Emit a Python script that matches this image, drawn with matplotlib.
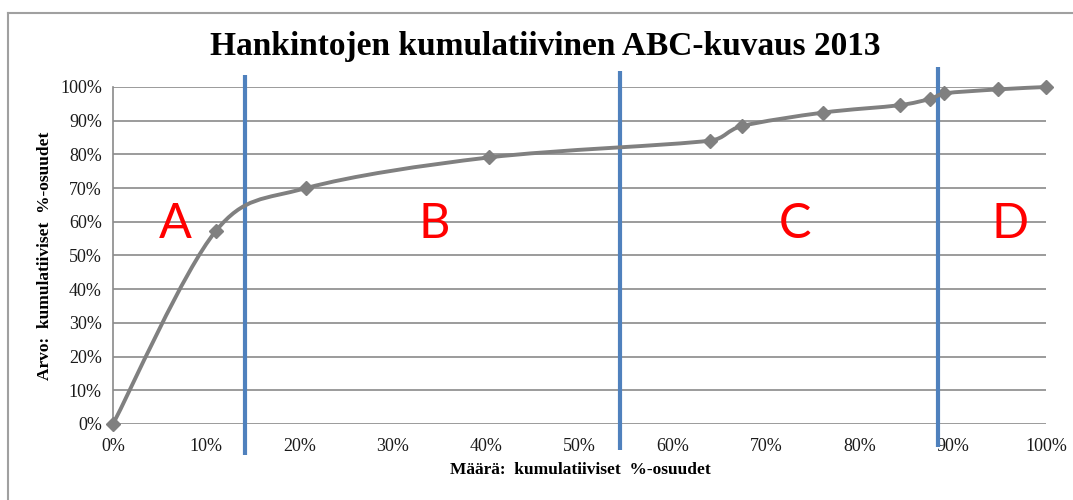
import numpy as np
import matplotlib
matplotlib.use("Agg")
import matplotlib.pyplot as plt
from matplotlib.path import Path
from matplotlib.patches import PathPatch
from matplotlib.lines import Line2D
from matplotlib.ticker import PercentFormatter

# ---- data ----
qty_cum = [0.0, 11.0, 20.7, 40.3, 64.0, 67.4, 76.1, 84.3, 87.6, 89.1, 94.9, 100.0]
value_cum = [0.0, 57.2, 70.0, 79.1, 84.1, 88.4, 92.4, 94.6, 96.5, 98.1, 99.3, 100.0]
class_bounds = [14.2, 54.3, 88.4]
class_labels = ["A", "B", "C", "D"]
class_label_x = [6.7, 34.4, 73.1, 96.2]
x_ticks = list(range(0, 101, 10))
y_ticks = list(range(0, 101, 10))

title = "Hankintojen kumulatiivinen ABC-kuvaus 2013"
xlabel = "Määrä:  kumulatiiviset  %-osuudet"
ylabel = "Arvo:  kumulatiiviset  %-osuudet"

serif = ["Liberation Serif", "DejaVu Serif"]

fig = plt.figure(figsize=(10.73, 5.0), dpi=100)
fig.patch.set_facecolor("white")
ax = fig.add_axes([113 / 1073, 1 - 424 / 500, (1046 - 113) / 1073, (424 - 87) / 500])
ax.set_xlim(0, 100)
ax.set_ylim(0, 100)

# gridlines
ax.set_yticks(y_ticks)
ax.set_xticks(x_ticks)
ax.yaxis.grid(True, color="#8a8a8a", linewidth=1.2)
ax.set_axisbelow(True)
for s in ["top", "right", "bottom"]:
    ax.spines[s].set_visible(False)
ax.spines["left"].set_color("#8a8a8a")
ax.spines["left"].set_linewidth(1.2)
ax.xaxis.set_major_formatter(PercentFormatter(100, decimals=0))
ax.yaxis.set_major_formatter(PercentFormatter(100, decimals=0))
ax.tick_params(axis="both", length=0, labelsize=13, colors="#1a1a1a")
ax.tick_params(axis="y", pad=8)
ax.tick_params(axis="x", pad=10)
for lab in ax.get_xticklabels() + ax.get_yticklabels():
    lab.set_family(serif)

# smoothed curve through the data points (Bezier path in display space)
fig.canvas.draw()
pts = ax.transData.transform(np.column_stack([qty_cum, value_cum]))
n = len(pts)


def limit(v, maxlen):
    L = np.hypot(*v)
    return v * (maxlen / L) if L > maxlen else v


verts = [tuple(pts[0])]
codes = [Path.MOVETO]
for i in range(n - 1):
    p0 = pts[max(i - 1, 0)]
    p1 = pts[i]
    p2 = pts[i + 1]
    p3 = pts[min(i + 2, n - 1)]
    L12 = np.hypot(*(p2 - p1))
    c1 = p1 + limit((p2 - p0) / 6.0, 0.45 * L12)
    c2 = p2 - limit((p3 - p1) / 6.0, 0.45 * L12)
    verts += [tuple(c1), tuple(c2), tuple(p2)]
    codes += [Path.CURVE4] * 3
curve = PathPatch(Path(verts, codes), facecolor="none", edgecolor="#808080",
                  linewidth=2.8, zorder=3, clip_on=False, capstyle="round",
                  transform=None)
fig.add_artist(curve)
ax.plot(qty_cum, value_cum, linestyle="none", marker="D", markersize=7.5,
        color="#808080", zorder=4, clip_on=False)

# class boundaries
tops = [103.6, 104.8, 106.0]
bottoms = [-9.2, -7.7, -6.7]
for xb, t, b in zip(class_bounds, tops, bottoms):
    ax.plot([xb, xb], [b, t], color="#4f81bd", linewidth=3.0, zorder=5, clip_on=False,
            solid_capstyle="butt")

for lab, xl in zip(class_labels, class_label_x):
    ax.text(xl, 59.3, lab, color="#ff0000", fontsize=35, family=["Lato", "DejaVu Sans"],
            ha="center", va="center", zorder=6)

fig.text(545 / 1073, 1 - 47 / 500, title, ha="center", va="center",
         fontsize=24, fontweight="bold", family=serif, color="black")
fig.text(580 / 1073, 1 - 470 / 500, xlabel, ha="center", va="center",
         fontsize=12.5, fontweight="bold", family=serif, color="black")
fig.text(45 / 1073, 1 - 256 / 500, ylabel, ha="center", va="center", rotation=90,
         fontsize=12.5, fontweight="bold", family=serif, color="black")

# outer chart border
fig.add_artist(Line2D([8 / 1073, 1.0], [1 - 13 / 500, 1 - 13 / 500],
                      transform=fig.transFigure, color="#a0a0a0", linewidth=1.5))
fig.add_artist(Line2D([8 / 1073, 8 / 1073], [0.0, 1 - 13 / 500],
                      transform=fig.transFigure, color="#a0a0a0", linewidth=1.5))

fig.savefig("out.png", dpi=100, facecolor="white")
